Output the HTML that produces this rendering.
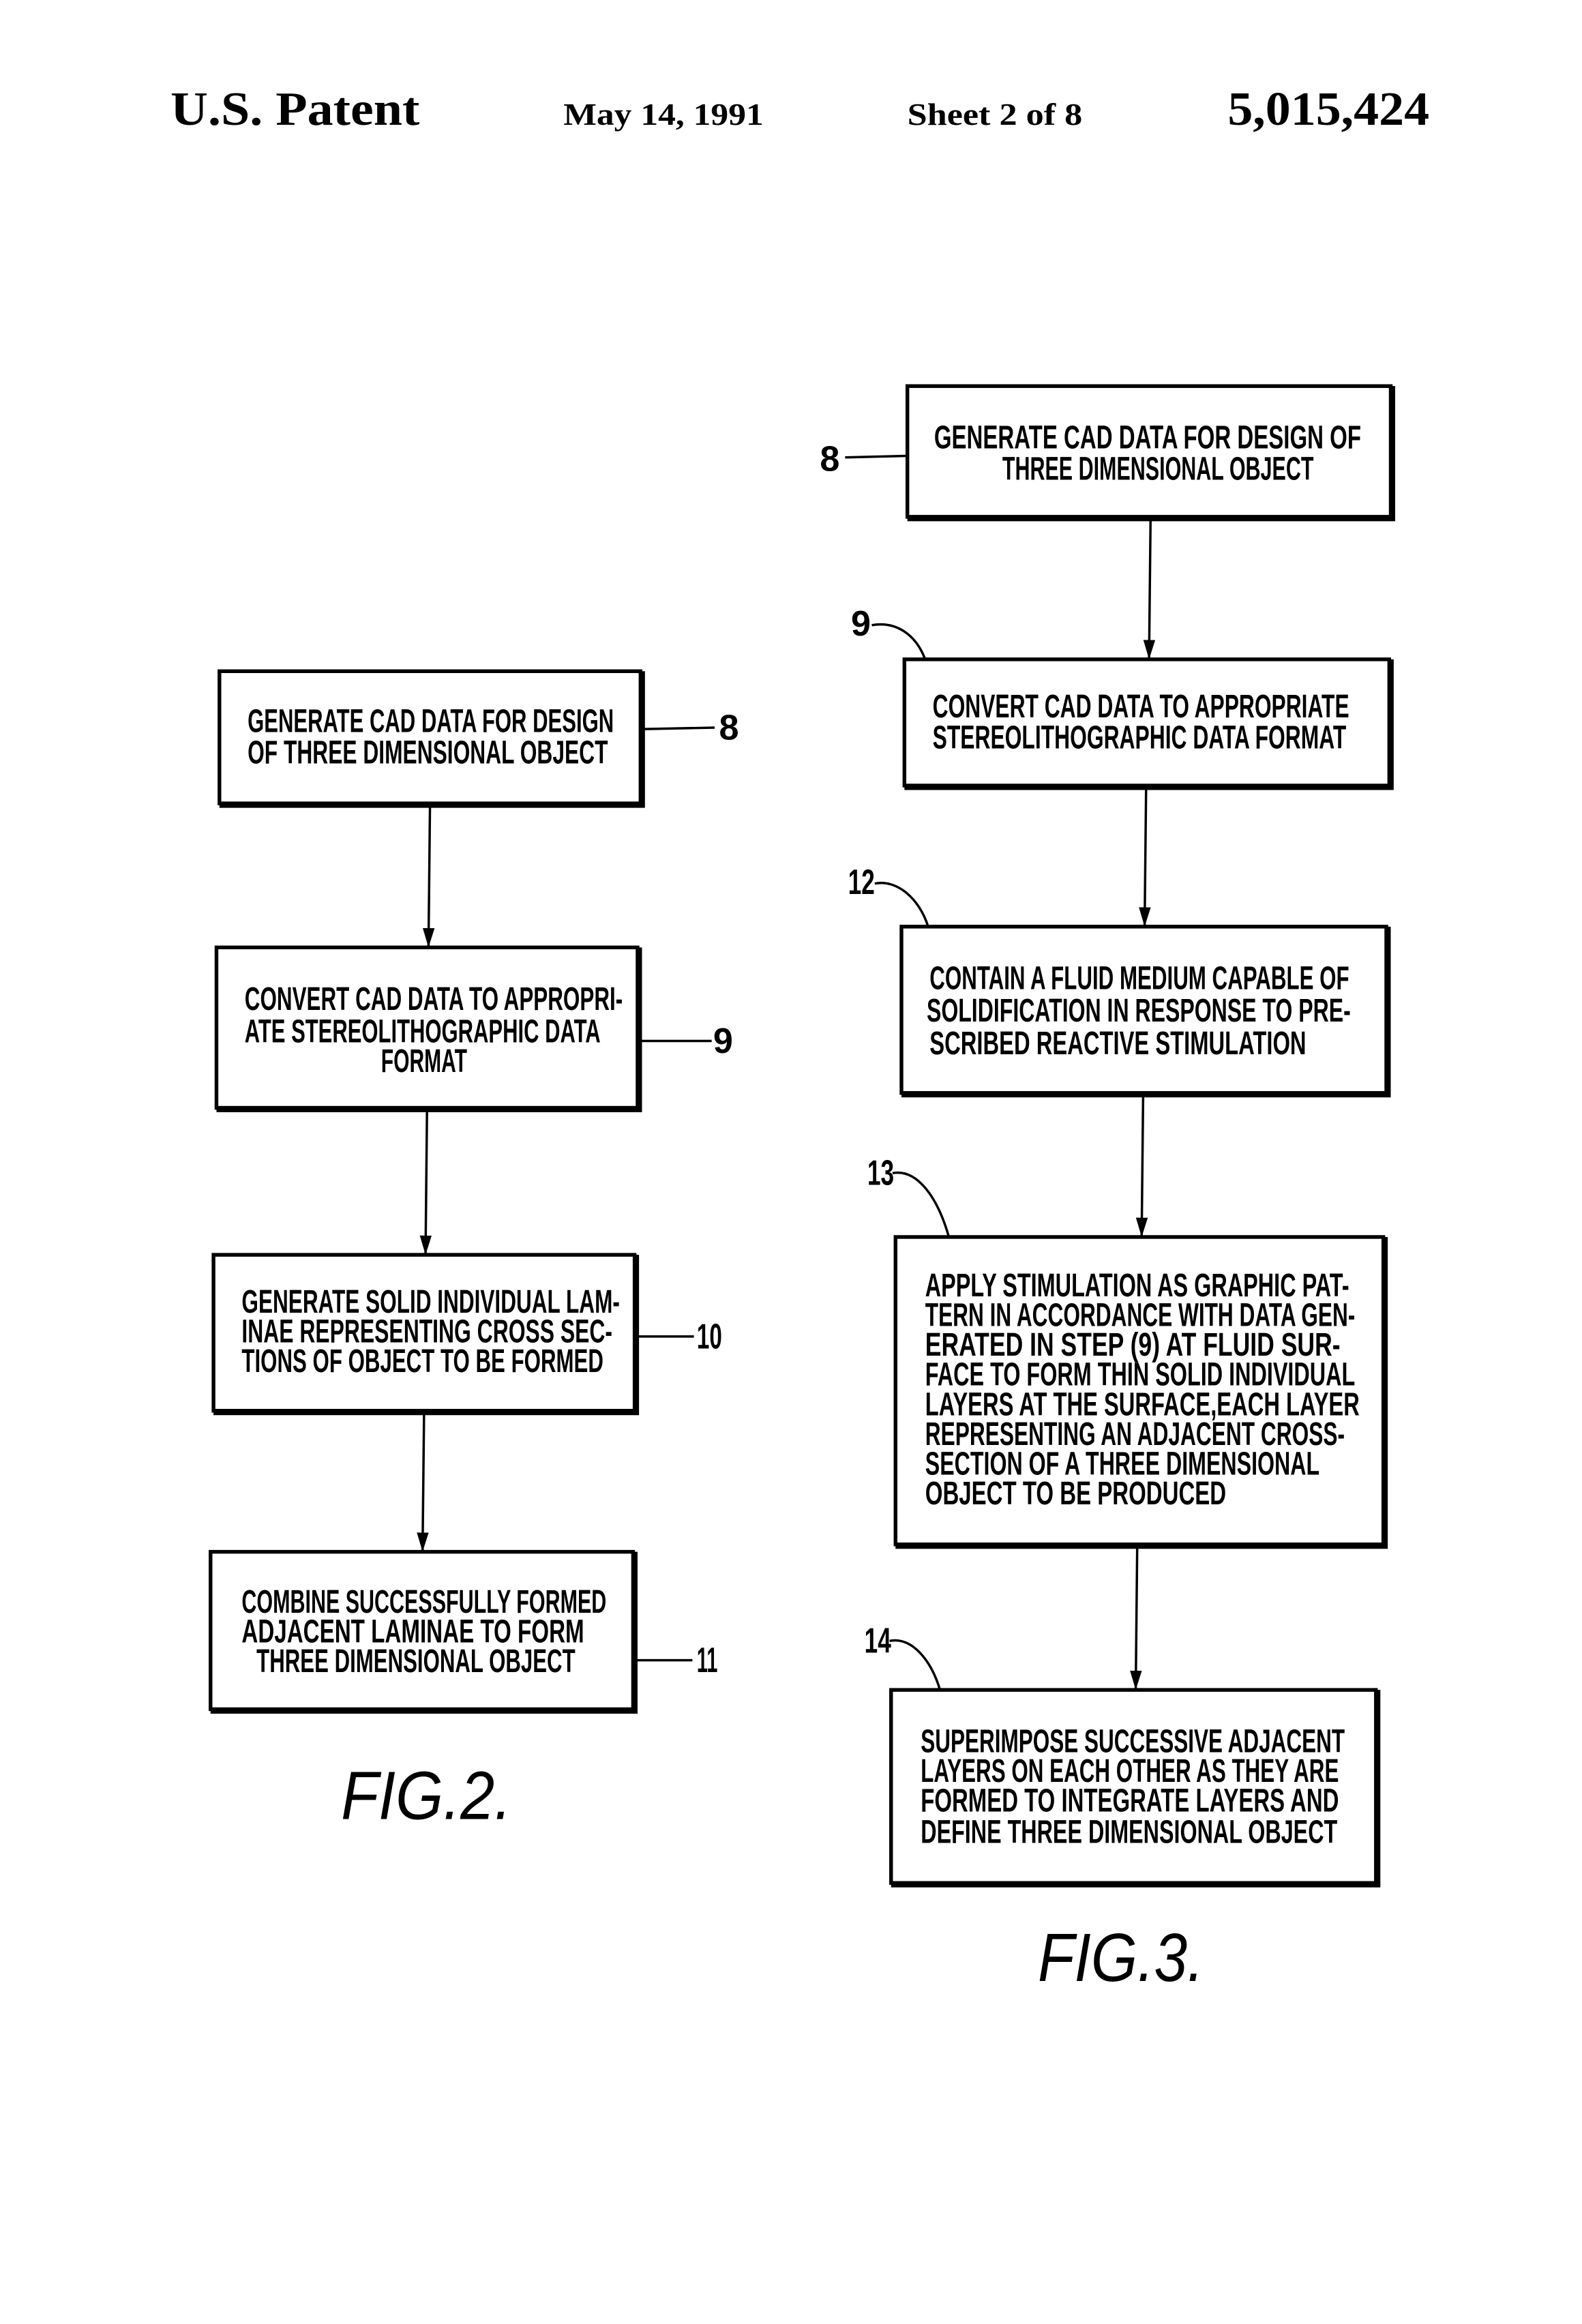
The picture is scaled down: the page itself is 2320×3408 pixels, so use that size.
<!DOCTYPE html>
<html><head><meta charset="utf-8"><style>
html,body{margin:0;padding:0;background:#fff;width:2320px;height:3408px;overflow:hidden}
svg{display:block}
.t{font-family:"Liberation Sans",sans-serif;font-weight:bold;font-size:22px;fill:#000}
.h{font-family:"Liberation Serif",serif;font-weight:bold;fill:#000}
.n{font-family:"Liberation Sans",sans-serif;font-weight:bold;font-size:24px;fill:#000}
.f{font-family:"Liberation Sans",sans-serif;font-style:italic;font-size:46px;fill:#000}
</style></head><body>
<svg width="2320" height="3408" viewBox="0 0 1067 1565" preserveAspectRatio="none" xmlns="http://www.w3.org/2000/svg">
<defs><marker id="a" markerWidth="14" markerHeight="10" refX="13" refY="4" orient="auto" markerUnits="userSpaceOnUse"><path d="M0,0 L13,4 L0,8 Z" fill="#000"/></marker></defs>
<text class="h" x="115" y="84" font-size="32" textLength="168" lengthAdjust="spacingAndGlyphs">U.S. Patent</text>
<text class="h" x="380" y="84" font-size="21" textLength="135" lengthAdjust="spacingAndGlyphs">May 14, 1991</text>
<text class="h" x="612" y="84" font-size="21" textLength="118" lengthAdjust="spacingAndGlyphs">Sheet 2 of 8</text>
<text class="h" x="828" y="84" font-size="32" textLength="136" lengthAdjust="spacingAndGlyphs">5,015,424</text>

<g fill="none" stroke="#000" stroke-width="2.5">
<rect x="148" y="452" width="284" height="89"/><path d="M148,542 H433 V452" stroke-width="4"/>
<rect x="146" y="638" width="284" height="108"/><path d="M146,747 H431 V638" stroke-width="4"/>
<rect x="144" y="845" width="284" height="105"/><path d="M144,951 H429 V845" stroke-width="4"/>
<rect x="142" y="1045" width="285" height="106"/><path d="M142,1152 H428 V1045" stroke-width="4"/>
<rect x="612" y="260" width="326" height="88"/><path d="M612,349 H939 V260" stroke-width="4"/>
<rect x="610" y="444" width="327" height="85"/><path d="M610,530 H938 V444" stroke-width="4"/>
<rect x="608" y="624" width="327" height="112"/><path d="M608,737 H936 V624" stroke-width="4"/>
<rect x="604" y="833" width="329" height="207"/><path d="M604,1041 H934 V833" stroke-width="4"/>
<rect x="601" y="1138" width="327" height="130"/><path d="M601,1269 H929 V1138" stroke-width="4"/>
</g>
<g stroke="#000" stroke-width="1.6" fill="none">
<line x1="290" y1="543" x2="289" y2="638" marker-end="url(#a)"/>
<line x1="288" y1="748" x2="287" y2="845" marker-end="url(#a)"/>
<line x1="286" y1="952" x2="285" y2="1045" marker-end="url(#a)"/>
<line x1="776" y1="350" x2="775" y2="444" marker-end="url(#a)"/>
<line x1="773" y1="531" x2="772" y2="624" marker-end="url(#a)"/>
<line x1="771" y1="738" x2="770" y2="833" marker-end="url(#a)"/>
<line x1="767" y1="1042" x2="766" y2="1138" marker-end="url(#a)"/>
<line x1="432" y1="491" x2="482" y2="490"/>
<line x1="430" y1="701" x2="480" y2="701"/>
<line x1="428" y1="900" x2="468" y2="900"/>
<line x1="427" y1="1118" x2="467" y2="1118"/>
<line x1="570" y1="308" x2="612" y2="307"/>
<path d="M588,421 C605,418 618,428 624,444"/>
<path d="M590,595 C605,592 620,605 626,624"/>
<path d="M602,790 C618,787 632,805 640,833"/>
<path d="M600,1105 C615,1102 628,1118 634,1138"/>
</g>
<text class="n" x="485" y="498">8</text>
<text class="n" x="481" y="709">9</text>
<text class="n" x="470" y="908" textLength="17" lengthAdjust="spacingAndGlyphs">10</text>
<text class="n" x="470" y="1126" textLength="14" lengthAdjust="spacingAndGlyphs">11</text>
<text class="n" x="553" y="317">8</text>
<text class="n" x="574" y="428">9</text>
<text class="n" x="572" y="602" textLength="18" lengthAdjust="spacingAndGlyphs">12</text>
<text class="n" x="585" y="798" textLength="18" lengthAdjust="spacingAndGlyphs">13</text>
<text class="n" x="583" y="1113" textLength="18" lengthAdjust="spacingAndGlyphs">14</text>

<g class="t" style="font-size:22px">
<text x="167" y="493" textLength="247" lengthAdjust="spacingAndGlyphs">GENERATE CAD DATA FOR DESIGN</text>
<text x="167" y="514" textLength="243" lengthAdjust="spacingAndGlyphs">OF THREE DIMENSIONAL OBJECT</text>
<text x="165" y="680" textLength="255" lengthAdjust="spacingAndGlyphs">CONVERT CAD DATA TO APPROPRI-</text>
<text x="165" y="702" textLength="240" lengthAdjust="spacingAndGlyphs">ATE STEREOLITHOGRAPHIC DATA</text>
<text x="257" y="722" textLength="58" lengthAdjust="spacingAndGlyphs">FORMAT</text>
<text x="163" y="884" textLength="255" lengthAdjust="spacingAndGlyphs">GENERATE SOLID INDIVIDUAL LAM-</text>
<text x="163" y="904" textLength="250" lengthAdjust="spacingAndGlyphs">INAE REPRESENTING CROSS SEC-</text>
<text x="163" y="924" textLength="244" lengthAdjust="spacingAndGlyphs">TIONS OF OBJECT TO BE FORMED</text>
<text x="163" y="1086" textLength="246" lengthAdjust="spacingAndGlyphs">COMBINE SUCCESSFULLY FORMED</text>
<text x="163" y="1106" textLength="231" lengthAdjust="spacingAndGlyphs">ADJACENT LAMINAE TO FORM</text>
<text x="173" y="1126" textLength="215" lengthAdjust="spacingAndGlyphs">THREE DIMENSIONAL OBJECT</text>

<text x="630" y="302" textLength="288" lengthAdjust="spacingAndGlyphs">GENERATE CAD DATA FOR DESIGN OF</text>
<text x="676" y="323" textLength="210" lengthAdjust="spacingAndGlyphs">THREE DIMENSIONAL OBJECT</text>
<text x="629" y="483" textLength="281" lengthAdjust="spacingAndGlyphs">CONVERT CAD DATA TO APPROPRIATE</text>
<text x="629" y="504" textLength="279" lengthAdjust="spacingAndGlyphs">STEREOLITHOGRAPHIC DATA FORMAT</text>
<text x="627" y="666" textLength="283" lengthAdjust="spacingAndGlyphs">CONTAIN A FLUID MEDIUM CAPABLE OF</text>
<text x="625" y="688" textLength="286" lengthAdjust="spacingAndGlyphs">SOLIDIFICATION IN RESPONSE TO PRE-</text>
<text x="627" y="710" textLength="254" lengthAdjust="spacingAndGlyphs">SCRIBED REACTIVE STIMULATION</text>
<text x="624" y="873" textLength="286" lengthAdjust="spacingAndGlyphs">APPLY STIMULATION AS GRAPHIC PAT-</text>
<text x="624" y="893" textLength="290" lengthAdjust="spacingAndGlyphs">TERN IN ACCORDANCE WITH DATA GEN-</text>
<text x="624" y="913" textLength="280" lengthAdjust="spacingAndGlyphs">ERATED IN STEP (9) AT FLUID SUR-</text>
<text x="624" y="933" textLength="290" lengthAdjust="spacingAndGlyphs">FACE TO FORM THIN SOLID INDIVIDUAL</text>
<text x="624" y="953" textLength="293" lengthAdjust="spacingAndGlyphs">LAYERS AT THE SURFACE,EACH LAYER</text>
<text x="624" y="973" textLength="283" lengthAdjust="spacingAndGlyphs">REPRESENTING AN ADJACENT CROSS-</text>
<text x="624" y="993" textLength="266" lengthAdjust="spacingAndGlyphs">SECTION OF A THREE DIMENSIONAL</text>
<text x="624" y="1013" textLength="203" lengthAdjust="spacingAndGlyphs">OBJECT TO BE PRODUCED</text>
<text x="621" y="1180" textLength="286" lengthAdjust="spacingAndGlyphs">SUPERIMPOSE SUCCESSIVE ADJACENT</text>
<text x="621" y="1200" textLength="282" lengthAdjust="spacingAndGlyphs">LAYERS ON EACH OTHER AS THEY ARE</text>
<text x="621" y="1220" textLength="282" lengthAdjust="spacingAndGlyphs">FORMED TO INTEGRATE LAYERS AND</text>
<text x="621" y="1241" textLength="281" lengthAdjust="spacingAndGlyphs">DEFINE THREE DIMENSIONAL OBJECT</text>
</g>
<text class="f" x="230" y="1225" textLength="115" lengthAdjust="spacingAndGlyphs">FIG.2.</text>
<text class="f" x="700" y="1334" textLength="112" lengthAdjust="spacingAndGlyphs">FIG.3.</text>
</svg>
</body></html>
